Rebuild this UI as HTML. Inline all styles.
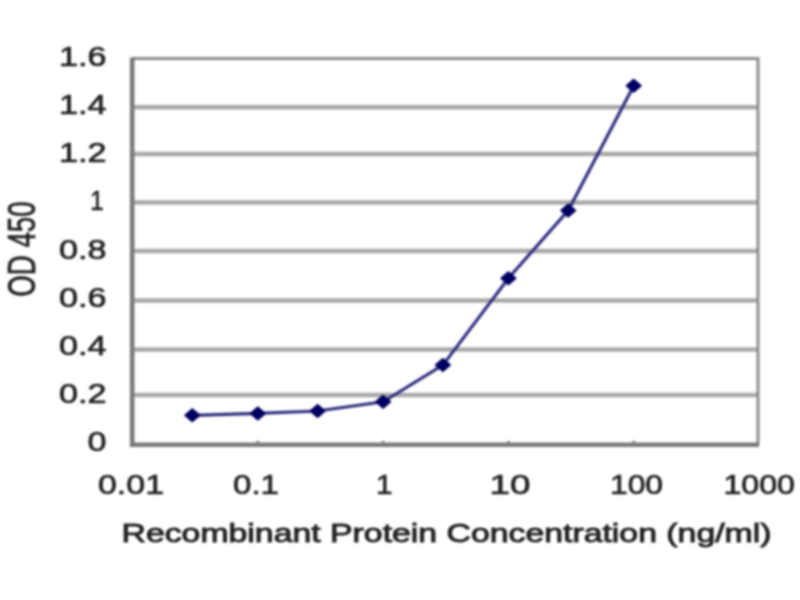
<!DOCTYPE html>
<html><head><meta charset="utf-8"><title>Chart</title>
<style>
html,body{margin:0;padding:0;background:#fff;}
svg{display:block;filter:blur(1.25px);}
text{font-family:"Liberation Sans",sans-serif;fill:#222;stroke:#222;stroke-width:0.7px;}
</style></head><body>
<svg width="800" height="600" viewBox="0 0 800 600">
<rect width="800" height="600" fill="#fff"/>
<g stroke="#a9a9a9" stroke-width="4.5"><line x1="132.2" x2="758" y1="107.3" y2="107.3"/><line x1="132.2" x2="758" y1="153.9" y2="153.9"/><line x1="132.2" x2="758" y1="202.6" y2="202.6"/><line x1="132.2" x2="758" y1="251.0" y2="251.0"/><line x1="132.2" x2="758" y1="300.6" y2="300.6"/><line x1="132.2" x2="758" y1="349.5" y2="349.5"/><line x1="132.2" x2="758" y1="395.0" y2="395.0"/></g>
<path d="M132.2 58.5 H758 V444.8" fill="none" stroke="#8e8e8e" stroke-width="3"/>
<path d="M132.2 57.5 V444.8 H759" fill="none" stroke="#7a7a7a" stroke-width="4.6"/>
<g stroke="#808080" stroke-width="2.5"><line x1="257.8" x2="257.8" y1="440.8" y2="444.8"/><line x1="383.1" x2="383.1" y1="440.8" y2="444.8"/><line x1="508.4" x2="508.4" y1="440.8" y2="444.8"/><line x1="633.7" x2="633.7" y1="440.8" y2="444.8"/></g>
<polyline points="192.3,415.3 257.8,413.4 317.6,411.0 383.1,401.8 442.9,365.1 508.4,278.2 568.2,210.6 633.7,85.8" fill="none" stroke="#303080" stroke-width="3.2"/>
<g fill="#000060" stroke="#000060" stroke-width="2" stroke-linejoin="round"><path d="M185.3 415.3 L192.3 409.3 L199.3 415.3 L192.3 421.3Z"/><path d="M250.8 413.4 L257.8 407.4 L264.8 413.4 L257.8 419.4Z"/><path d="M310.6 411.0 L317.6 405.0 L324.6 411.0 L317.6 417.0Z"/><path d="M376.1 401.8 L383.1 395.8 L390.1 401.8 L383.1 407.8Z"/><path d="M435.9 365.1 L442.9 359.1 L449.9 365.1 L442.9 371.1Z"/><path d="M501.4 278.2 L508.4 272.2 L515.4 278.2 L508.4 284.2Z"/><path d="M561.2 210.6 L568.2 204.6 L575.2 210.6 L568.2 216.6Z"/><path d="M626.7 85.8 L633.7 79.8 L640.7 85.8 L633.7 91.8Z"/></g>
<g font-size="28"><text transform="translate(106.5,450.8) scale(1.22,1)" text-anchor="end">0</text><text transform="translate(106.5,402.7) scale(1.22,1)" text-anchor="end">0.2</text><text transform="translate(106.5,354.7) scale(1.22,1)" text-anchor="end">0.4</text><text transform="translate(106.5,306.6) scale(1.22,1)" text-anchor="end">0.6</text><text transform="translate(106.5,258.5) scale(1.22,1)" text-anchor="end">0.8</text><text transform="translate(103.5,210.4) scale(0.85,1)" text-anchor="end">1</text><text transform="translate(106.5,162.4) scale(1.22,1)" text-anchor="end">1.2</text><text transform="translate(106.5,114.3) scale(1.22,1)" text-anchor="end">1.4</text><text transform="translate(106.5,66.2) scale(1.22,1)" text-anchor="end">1.6</text></g>
<g font-size="28"><text x="98" y="493.5" textLength="66" lengthAdjust="spacingAndGlyphs">0.01</text><text x="233" y="493.5" textLength="46" lengthAdjust="spacingAndGlyphs">0.1</text><text x="376" y="493.5" textLength="16.5" lengthAdjust="spacingAndGlyphs">1</text><text x="489.5" y="493.5" textLength="41" lengthAdjust="spacingAndGlyphs">10</text><text x="610" y="493.5" textLength="53" lengthAdjust="spacingAndGlyphs">100</text><text x="723.5" y="493.5" textLength="71.5" lengthAdjust="spacingAndGlyphs">1000</text></g>
<text x="121.5" y="541.5" font-size="25.5" textLength="650" style="stroke-width:0.9px" lengthAdjust="spacingAndGlyphs">Recombinant Protein Concentration (ng/ml)</text>
<text transform="translate(35.2,296.8) rotate(-90)" font-size="38" textLength="95.5" lengthAdjust="spacingAndGlyphs">OD 450</text>
</svg>
</body></html>
